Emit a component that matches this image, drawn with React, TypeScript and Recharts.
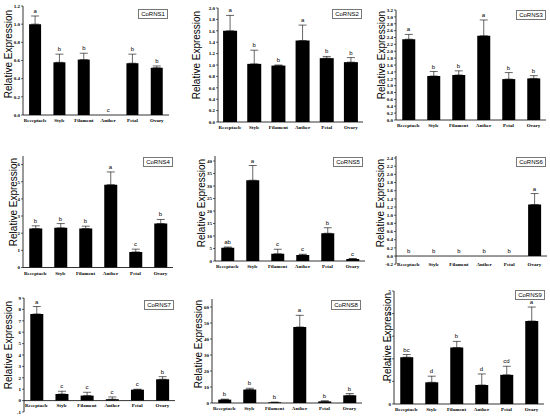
import React from 'react';
import {
  ComposedChart,
  Bar,
  Line,
  XAxis,
  YAxis,
  ErrorBar,
  LabelList,
  ReferenceLine,
} from 'recharts';

const tissues = ['Receptacle', 'Style', 'Filament', 'Anther', 'Petal', 'Ovary'];

const rns1Mean = [1.0, 0.58, 0.61, 0, 0.57, 0.52];
const rns1Err = [0.09, 0.09, 0.07, 0, 0.1, 0.02];
const rns1Sig = ['a', 'b', 'b', 'c', 'b', 'b'];
const rns1Ticks = [0, 0.2, 0.4, 0.6, 0.8, 1.0, 1.2];

const rns2Mean = [1.6, 1.02, 0.99, 1.43, 1.12, 1.05];
const rns2Err = [0.27, 0.24, 0.01, 0.27, 0.03, 0.08];
const rns2Sig = ['a', 'b', 'b', 'a', 'b', 'b'];
const rns2Ticks = [0, 0.2, 0.4, 0.6, 0.8, 1.0, 1.2, 1.4, 1.6, 1.8, 2.0];

const rns3Mean = [2.35, 1.28, 1.31, 2.45, 1.19, 1.21];
const rns3Err = [0.14, 0.13, 0.12, 0.46, 0.19, 0.08];
const rns3Sig = ['a', 'b', 'b', 'a', 'b', 'b'];
const rns3Ticks = [0, 0.2, 0.4, 0.6, 0.8, 1.0, 1.2, 1.4, 1.6, 1.8, 2.0, 2.2, 2.4, 2.6, 2.8, 3.0, 3.2];

const rns4Mean = [2.27, 2.31, 2.27, 4.83, 0.91, 2.56];
const rns4Err = [0.16, 0.25, 0.14, 0.74, 0.16, 0.24];
const rns4Sig = ['b', 'b', 'b', 'a', 'c', 'b'];
const rns4Ticks = [0, 1, 2, 3, 4, 5, 6];

const rns5Mean = [5.3, 32.3, 2.9, 2.4, 11.1, 0.8];
const rns5Err = [0.3, 5.9, 1.8, 0.3, 2.2, 0.2];
const rns5Sig = ['ab', 'a', 'c', 'c', 'b', 'c'];
const rns5Ticks = [0, 5, 10, 15, 20, 25, 30, 35, 40];

const rns6Mean = [0, 0, 0, 0, 0, 1.26];
const rns6Err = [0, 0, 0, 0, 0, 0.27];
const rns6Sig = ['b', 'b', 'b', 'b', 'b', 'a'];
const rns6Ticks = [-0.2, 0, 0.2, 0.4, 0.6, 0.8, 1.0, 1.2, 1.4, 1.6, 1.8, 2.0, 2.2, 2.4];

const rns7Mean = [7.6, 0.58, 0.44, 0.12, 0.96, 1.87];
const rns7Err = [0.65, 0.24, 0.29, 0.2, 0.04, 0.23];
const rns7Sig = ['a', 'c', 'c', 'c', 'c', 'b'];
const rns7Ticks = [-1, 0, 1, 2, 3, 4, 5, 6, 7, 8, 9];

const rns8Mean = [2.1, 8.4, 0.4, 47.5, 1.0, 4.8];
const rns8Err = [0.3, 0.8, 0.1, 7.3, 0.4, 1.1];
const rns8Sig = ['b', 'b', 'b', 'a', 'b', 'b'];
const rns8Ticks = [0, 10, 20, 30, 40, 50, 60];

const rns9Mean = [2.07, 0.96, 2.5, 0.84, 1.29, 3.67];
const rns9Err = [0.12, 0.27, 0.27, 0.49, 0.38, 0.62];
const rns9Sig = ['bc', 'd', 'b', 'd', 'cd', 'a'];
const rns9Ticks = [0, 1, 2, 3, 4, 5];

interface PanelProps {
  name: string;
  mean: number[];
  err: number[];
  sig: string[];
  ticks: number[];
  domain: [number, number];
  decimals: number;
  axisX: number;
  plotTop: number;
  plotBottom: number;
  plotW: number;
  zeroAxis?: boolean;
  labelShift?: number;
  gap?: string;
  titleX: number;
  titleY: number;
  boxX: number;
  boxY: number;
}

const YAW = 14;
const TOP_M = 10;
const XAH = 14;

function CatTick(props: any) {
  const { x, y, payload, shift } = props;
  return (
    <text
      x={x}
      y={y + shift}
      textAnchor="middle"
      fontFamily="Liberation Serif"
      fontWeight="bold"
      fontSize={5}
      fill="#000"
    >
      {payload.value}
    </text>
  );
}

function Panel(p: PanelProps) {
  const data = tissues.map((t, i) => ({
    name: t,
    value: p.mean[i],
    err: [0, p.err[i]],
    top: p.mean[i] + p.err[i],
    sig: p.sig[i],
  }));
  const plotH = p.plotBottom - p.plotTop;
  const shift = p.labelShift ?? 7.4;

  return (
    <>
      <div
        style={{
          position: 'absolute',
          left: p.axisX - YAW,
          top: p.plotTop - TOP_M,
        }}
      >
        <ComposedChart
          width={YAW + p.plotW + 4}
          height={TOP_M + plotH + XAH}
          data={data}
          margin={{ top: TOP_M, right: 4, bottom: 0, left: 0 }}
          barCategoryGap={p.gap ?? '25%'}
        >
          <XAxis
            dataKey="name"
            height={XAH}
            interval={0}
            tickLine={false}
            tickSize={0}
            tickMargin={0}
            axisLine={p.zeroAxis ? false : { stroke: '#000', strokeWidth: 0.8 }}
            tick={(t: any) => <CatTick {...t} shift={shift} />}
          />
          <YAxis
            width={YAW}
            domain={p.domain}
            ticks={p.ticks}
            allowDataOverflow
            interval={0}
            tickSize={2}
            tickMargin={1}
            axisLine={{ stroke: '#000', strokeWidth: 0.8 }}
            tickLine={{ stroke: '#000', strokeWidth: 0.6 }}
            tick={{ fontSize: 5, fontFamily: 'Liberation Serif', fontWeight: 'bold', fill: '#000' }}
            tickFormatter={(v: number) => v.toFixed(p.decimals)}
          />
          {p.zeroAxis && <ReferenceLine y={0} stroke="#000" strokeWidth={0.8} />}
          <Bar dataKey="value" fill="#000" isAnimationActive={false}>
            <ErrorBar dataKey="err" width={4} stroke="#000" strokeWidth={0.6} direction="y" />
          </Bar>
          <Line
            dataKey="top"
            stroke="none"
            dot={false}
            activeDot={false}
            isAnimationActive={false}
          >
            <LabelList
              dataKey="sig"
              position="top"
              offset={3}
              fontSize={6}
              fontFamily="Liberation Sans"
              fill="#000"
            />
          </Line>
        </ComposedChart>
      </div>
      <div
        style={{
          position: 'absolute',
          left: p.titleX,
          top: p.titleY,
          transform: 'translate(-50%, -50%) rotate(-90deg)',
          fontFamily: 'Liberation Sans, Arial, sans-serif',
          fontSize: 10,
          whiteSpace: 'nowrap',
          color: '#000',
        }}
      >
        Relative Expression
      </div>
      <div
        style={{
          position: 'absolute',
          left: p.boxX,
          top: p.boxY,
          width: 28,
          height: 8,
          border: '0.8px solid #777',
          fontFamily: 'Liberation Sans, Arial, sans-serif',
          fontSize: 6,
          lineHeight: '8px',
          textAlign: 'center',
          color: '#000',
        }}
      >
        {p.name}
      </div>
    </>
  );
}

export default function App() {
  return (
    <div
      style={{
        position: 'absolute',
        left: 0,
        top: 0,
        width: 550,
        height: 417,
        background: '#fff',
        overflow: 'hidden',
      }}
    >
      <Panel name="CoRNS1" mean={rns1Mean} err={rns1Err} sig={rns1Sig} ticks={rns1Ticks}
        domain={[0, 1.2]} decimals={1} axisX={23} plotTop={6} plotBottom={115} plotW={146}
        titleX={8} titleY={54} boxX={138} boxY={9} />
      <Panel name="CoRNS2" mean={rns2Mean} err={rns2Err} sig={rns2Sig} ticks={rns2Ticks}
        domain={[0, 2.0]} decimals={1} axisX={218} plotTop={8} plotBottom={122} plotW={145}
        gap="21%" titleX={196} titleY={55} boxX={332} boxY={9} />
      <Panel name="CoRNS3" mean={rns3Mean} err={rns3Err} sig={rns3Sig} ticks={rns3Ticks}
        domain={[0, 3.2]} decimals={1} axisX={396} plotTop={10} plotBottom={120} plotW={150}
        titleX={381} titleY={55} boxX={516} boxY={10} />
      <Panel name="CoRNS4" mean={rns4Mean} err={rns4Err} sig={rns4Sig} ticks={rns4Ticks}
        domain={[0, 6.5]} decimals={0} axisX={23} plotTop={155.5} plotBottom={267} plotW={150}
        titleX={13} titleY={202} boxX={143} boxY={157} />
      <Panel name="CoRNS5" mean={rns5Mean} err={rns5Err} sig={rns5Sig} ticks={rns5Ticks}
        domain={[0, 42]} decimals={0} axisX={215} plotTop={156} plotBottom={261} plotW={150}
        titleX={201} titleY={203} boxX={333} boxY={157} />
      <Panel name="CoRNS6" mean={rns6Mean} err={rns6Err} sig={rns6Sig} ticks={rns6Ticks}
        domain={[-0.2, 2.45]} decimals={1} axisX={396} plotTop={156} plotBottom={264.2} plotW={151}
        zeroAxis labelShift={1.5} titleX={380} titleY={203} boxX={516} boxY={157} />
      <Panel name="CoRNS7" mean={rns7Mean} err={rns7Err} sig={rns7Sig} ticks={rns7Ticks}
        domain={[-1, 9]} decimals={0} axisX={23.5} plotTop={297.7} plotBottom={411.7} plotW={151}
        zeroAxis labelShift={-5} titleX={8} titleY={345} boxX={144} boxY={300} />
      <Panel name="CoRNS8" mean={rns8Mean} err={rns8Err} sig={rns8Sig} ticks={rns8Ticks}
        domain={[0, 65]} decimals={0} axisX={212} plotTop={299} plotBottom={403} plotW={150}
        titleX={198} titleY={344} boxX={331} boxY={300} />
      <Panel name="CoRNS9" mean={rns9Mean} err={rns9Err} sig={rns9Sig} ticks={rns9Ticks}
        domain={[0, 5]} decimals={0} axisX={394} plotTop={291} plotBottom={404} plotW={150}
        titleX={387} titleY={337} boxX={515} boxY={290} />
    </div>
  );
}
